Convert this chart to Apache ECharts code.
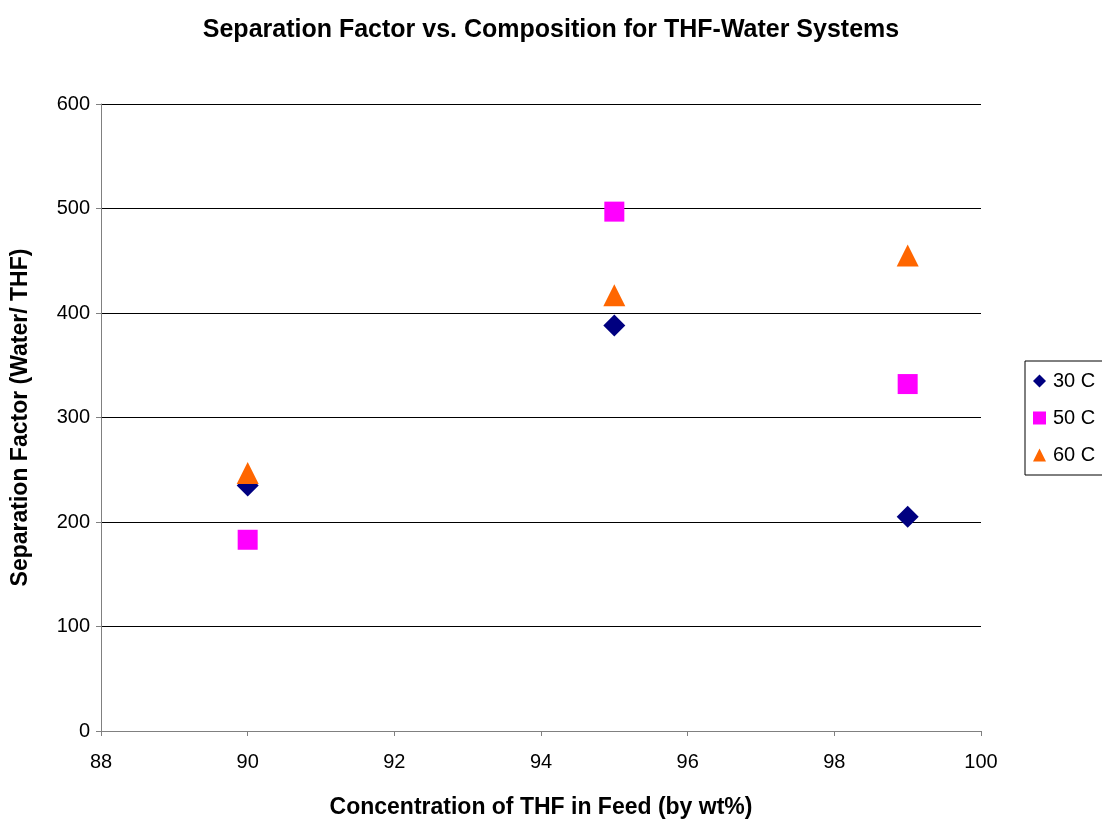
<!DOCTYPE html>
<html><head><meta charset="utf-8">
<script src="https://cdn.jsdelivr.net/npm/echarts@6/dist/echarts.min.js"></script>
<style>html,body{margin:0;padding:0;background:#fff}#c{width:1102px;height:819px}</style>
</head><body><div id="c"></div>
<script>
const xValues = [90, 95, 99];
const s30 = [235, 388, 205];
const s50 = [183, 497, 332];
const s60 = [247, 417, 455];
const seriesNames = ['30 C', '50 C', '60 C'];
const pair = v => xValues.map((x, i) => [x, v[i]]);
const F = 'Liberation Sans, Arial, sans-serif';
const chart = echarts.init(document.getElementById('c'));
chart.setOption({
  animation: false,
  backgroundColor: '#fff',
  title: { text: 'Separation Factor vs. Composition for THF-Water Systems', left: 'center', top: 13,
    textStyle: { fontFamily: F, fontSize: 25, fontWeight: 'bold', color: '#000' } },
  grid: { left: 101, right: 121, top: 104, bottom: 88, outerBoundsMode: 'none', containLabel: false },
  legend: { orient: 'vertical', left: 1025, top: 361, padding: [10, 40, 10, 8], itemGap: 17,
    borderColor: '#000', borderWidth: 1, itemWidth: 13, itemHeight: 13,
    textStyle: { fontFamily: F, fontSize: 20, color: '#000', padding: [0, 0, 0, 2] },
    data: seriesNames },
  xAxis: { type: 'value', min: 88, max: 100, interval: 2,
    name: 'Concentration of THF in Feed (by wt%)', nameLocation: 'middle', nameGap: 65,
    nameTextStyle: { fontFamily: F, fontSize: 23, fontWeight: 'bold', color: '#000' },
    axisLine: { lineStyle: { color: '#808080' } },
    axisTick: { show: true, inside: false, length: 5, lineStyle: { color: '#808080' } },
    axisLabel: { fontFamily: F, fontSize: 20, color: '#000', margin: 21 },
    splitLine: { show: false } },
  yAxis: { type: 'value', min: 0, max: 600, interval: 100,
    name: 'Separation Factor (Water/ THF)', nameLocation: 'middle', nameGap: 69,
    nameTextStyle: { fontFamily: F, fontSize: 23, fontWeight: 'bold', color: '#000' },
    axisLine: { show: true, lineStyle: { color: '#808080' } },
    axisTick: { show: true, length: 5, lineStyle: { color: '#808080' } },
    axisLabel: { fontFamily: F, fontSize: 20, color: '#000', margin: 11 },
    splitLine: { lineStyle: { color: '#000', width: 1 } } },
  series: [
    { name: seriesNames[0], type: 'scatter', symbol: 'diamond', symbolSize: 22, z: 2,
      itemStyle: { color: '#000080', opacity: 1 }, data: pair(s30) },
    { name: seriesNames[1], type: 'scatter', symbol: 'rect', symbolSize: 20, z: 3,
      itemStyle: { color: '#FF00FF', opacity: 1 }, data: pair(s50) },
    { name: seriesNames[2], type: 'scatter', symbol: 'triangle', symbolSize: 22, z: 4,
      itemStyle: { color: '#FF6600', opacity: 1 }, data: pair(s60) }
  ]
});
</script></body></html>
